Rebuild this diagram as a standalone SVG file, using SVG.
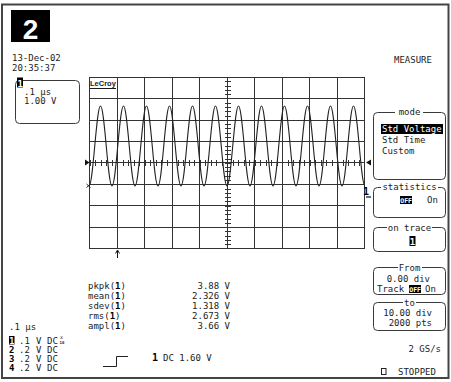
<svg xmlns="http://www.w3.org/2000/svg" width="451" height="382" viewBox="0 0 451 382">
<style>
text{font-family:"DejaVu Sans Mono","Liberation Mono",monospace;font-size:9px;fill:#222}
.b{font-weight:bold;fill:#000}
.w{fill:#fff}
.m{text-anchor:middle}
.e{text-anchor:end}
.box{fill:#fff;stroke:#3a3a3a;stroke-width:1}
.blk{fill:#000}
.sm{font-size:6.5px;font-weight:bold;fill:#fff}
#grid line{stroke:#333;stroke-width:1}
</style>
<rect width="451" height="382" fill="#fff"/>
<rect x="2" y="4.5" width="446.5" height="373.5" fill="none" stroke="#444" stroke-width="2"/>

<g id="trace-number">
<rect class="blk" x="11" y="10" width="39" height="32"/>
<text x="30.5" y="38.5" class="m" style="font-family:'Liberation Sans',Arial,sans-serif;font-size:28px;font-weight:bold;fill:#fff">2</text>
</g>

<g id="timestamp">
<text x="12" y="60.5">13-Dec-02</text>
<text x="12" y="71">20:35:37</text>
</g>

<g id="zoom-box">
<rect class="box" x="15.5" y="80.5" width="64" height="43" rx="4"/>
<rect class="blk" x="17" y="77.5" width="6" height="10"/>
<text x="17.4" y="86.5" class="sm" style="font-size:9px">1</text>
<text x="24" y="94.5">.1 μs</text>
<text x="24" y="103.5">1.00 V</text>
</g>

<text x="394" y="63">MEASURE</text>

<g id="grid" shape-rendering="crispEdges">
<line x1="89.5" y1="77" x2="89.5" y2="249"/>
<line x1="117.5" y1="77" x2="117.5" y2="249"/>
<line x1="144.5" y1="77" x2="144.5" y2="249"/>
<line x1="172.5" y1="77" x2="172.5" y2="249"/>
<line x1="199.5" y1="77" x2="199.5" y2="249"/>
<line x1="227.5" y1="77" x2="227.5" y2="249"/>
<line x1="254.5" y1="77" x2="254.5" y2="249"/>
<line x1="282.5" y1="77" x2="282.5" y2="249"/>
<line x1="309.5" y1="77" x2="309.5" y2="249"/>
<line x1="337.5" y1="77" x2="337.5" y2="249"/>
<line x1="364.5" y1="77" x2="364.5" y2="249"/>
<line x1="89" y1="77.5" x2="365" y2="77.5"/>
<line x1="89" y1="98.5" x2="365" y2="98.5"/>
<line x1="89" y1="120.5" x2="365" y2="120.5"/>
<line x1="89" y1="141.5" x2="365" y2="141.5"/>
<line x1="89" y1="162.5" x2="365" y2="162.5"/>
<line x1="89" y1="184.5" x2="365" y2="184.5"/>
<line x1="89" y1="205.5" x2="365" y2="205.5"/>
<line x1="89" y1="227.5" x2="365" y2="227.5"/>
<line x1="89" y1="248.5" x2="365" y2="248.5"/>
<line x1="227.5" y1="77" x2="227.5" y2="249" style="stroke-width:6;stroke-dasharray:1 3.29"/>
<line x1="89.5" y1="162.5" x2="365" y2="162.5" style="stroke-width:6;stroke-dasharray:1 4.5"/>
</g>

<g id="lecroy-label">
<text x="90" y="86" style="font-family:'Liberation Sans',Arial,sans-serif;font-size:7.5px;font-weight:bold">LeCroy</text>
<line x1="90" y1="88.5" x2="116" y2="88.5" stroke="#1a1a1a" stroke-width="1"/>
</g>

<g id="waveform">
<path fill="none" stroke="#222" stroke-width="1.1" d="M89,186c2.08,0 3.87,-19.5 5.75,-40c1.88,-20.5 3.67,-40 5.75,-40c2.08,0 3.87,19.5 5.75,40c1.88,20.5 3.67,40 5.75,40c2.08,0 3.87,-19.5 5.75,-40c1.88,-20.5 3.67,-40 5.75,-40c2.08,0 3.87,19.5 5.75,40c1.88,20.5 3.67,40 5.75,40c2.08,0 3.87,-19.5 5.75,-40c1.88,-20.5 3.67,-40 5.75,-40c2.08,0 3.87,19.5 5.75,40c1.88,20.5 3.67,40 5.75,40c2.08,0 3.87,-19.5 5.75,-40c1.88,-20.5 3.67,-40 5.75,-40c2.08,0 3.87,19.5 5.75,40c1.88,20.5 3.67,40 5.75,40c2.08,0 3.87,-19.5 5.75,-40c1.88,-20.5 3.67,-40 5.75,-40c2.08,0 3.87,19.5 5.75,40c1.88,20.5 3.67,40 5.75,40c2.08,0 3.87,-19.5 5.75,-40c1.88,-20.5 3.67,-40 5.75,-40c2.08,0 3.87,19.5 5.75,40c1.88,20.5 3.67,40 5.75,40c2.08,0 3.87,-19.5 5.75,-40c1.88,-20.5 3.67,-40 5.75,-40c2.08,0 3.87,19.5 5.75,40c1.88,20.5 3.67,40 5.75,40c2.08,0 3.87,-19.5 5.75,-40c1.88,-20.5 3.67,-40 5.75,-40c2.08,0 3.87,19.5 5.75,40c1.88,20.5 3.67,40 5.75,40c2.08,0 3.87,-19.5 5.75,-40c1.88,-20.5 3.67,-40 5.75,-40c2.08,0 3.87,19.5 5.75,40c1.88,20.5 3.67,40 5.75,40c2.08,0 3.87,-19.5 5.75,-40c1.88,-20.5 3.67,-40 5.75,-40c2.08,0 3.87,19.5 5.75,40c1.88,20.5 3.67,40 5.75,40c2.08,0 3.87,-19.5 5.75,-40c1.88,-20.5 3.67,-40 5.75,-40c2.08,0 3.87,19.5 5.75,40c1.88,20.5 3.67,40 5.75,40c2.08,0 3.87,-19.5 5.75,-40c1.88,-20.5 3.67,-40 5.75,-40c2.08,0 3.87,19.5 5.75,40c1.88,20.5 3.67,40 5.75,40"/>
<path d="M86.5,184l4,3.5M90.5,184l-4,3.5" stroke="#222" stroke-width="1"/>
</g>

<g id="markers">
<polygon points="85,159.5 89.5,162.5 85,165.5" fill="#111"/>
<polygon points="371,159.5 366,162.5 371,165.5" fill="#111"/>
<text x="363" y="195" class="b" style="font-size:10px">1</text>
<line x1="366" y1="197" x2="371" y2="197" stroke="#111" stroke-width="1.2"/>
<path d="M117.5,258V251" stroke="#111" stroke-width="1"/>
<path d="M115.5,253.5L117.5,250L119.5,253.5" fill="none" stroke="#111" stroke-width="1"/>
</g>

<g id="mode-menu">
<rect class="box" x="373.5" y="112.5" width="72" height="67" rx="4"/>
<rect x="395" y="108" width="28" height="8" fill="#fff"/>
<text x="409.5" y="115" class="m">mode</text>
<rect class="blk" x="381" y="124" width="62" height="10"/>
<text x="382" y="132" class="w">Std Voltage</text>
<text x="382" y="143">Std Time</text>
<text x="382" y="153.5">Custom</text>
</g>

<g id="statistics-menu">
<rect class="box" x="373.5" y="187.5" width="72" height="30" rx="4"/>
<rect x="381" y="183" width="57" height="8" fill="#fff"/>
<text x="409.5" y="190" class="m">statistics</text>
<rect class="blk" x="400" y="196" width="12" height="8"/>
<text x="400.3" y="202.6" class="sm">OFF</text>
<text x="427" y="203">On</text>
</g>

<g id="trace-menu">
<rect class="box" x="373.5" y="227.5" width="72" height="24" rx="4"/>
<rect x="387" y="223" width="45" height="8" fill="#fff"/>
<text x="409.5" y="230.5" class="m">on trace</text>
<rect class="blk" x="409.5" y="236" width="6" height="10"/>
<text x="409.8" y="245" class="sm" style="font-size:9px">1</text>
</g>

<g id="from-menu">
<rect class="box" x="373.5" y="267.5" width="72" height="27" rx="4"/>
<rect x="398" y="263" width="24" height="8" fill="#fff"/>
<text x="409.5" y="270.5" class="m">From</text>
<text x="430" y="282" class="e">0.00 div</text>
<text x="377" y="292">Track</text>
<rect class="blk" x="409" y="285" width="12" height="8"/>
<text x="409.3" y="291.6" class="sm">OFF</text>
<text x="425" y="292">On</text>
</g>

<g id="to-menu">
<rect class="box" x="373.5" y="302.5" width="72" height="28" rx="4"/>
<rect x="403" y="298" width="13" height="8" fill="#fff"/>
<text x="409.5" y="305.5" class="m">to</text>
<text x="432" y="316" class="e">10.00 div</text>
<text x="432" y="326" class="e">2000 pts</text>
</g>

<g id="measurements">
<text x="88" y="289">pkpk(<tspan class="b">1</tspan>)</text>
<text x="88" y="299">mean(<tspan class="b">1</tspan>)</text>
<text x="88" y="309">sdev(<tspan class="b">1</tspan>)</text>
<text x="88" y="319">rms(<tspan class="b">1</tspan>)</text>
<text x="88" y="329">ampl(<tspan class="b">1</tspan>)</text>
<text x="230" y="289" class="e">3.88 V</text>
<text x="230" y="299" class="e">2.326 V</text>
<text x="230" y="309" class="e">1.318 V</text>
<text x="230" y="319" class="e">2.673 V</text>
<text x="230" y="329" class="e">3.66 V</text>
</g>

<g id="channels">
<text x="9" y="330">.1 μs</text>
<rect class="blk" x="9" y="336" width="5.5" height="8.5"/>
<text x="9.2" y="343.6" class="sm" style="font-size:8.5px">1</text>
<text x="19" y="344">.1</text><text x="36" y="344">V</text><text x="47" y="344">DC</text>
<text x="60" y="339" style="font-size:5px">x</text>
<text x="59.5" y="343.5" style="font-size:4px;font-weight:bold">10</text>
<text x="9" y="352.5" class="b">2</text><text x="19" y="352.5">.2</text><text x="36" y="352.5">V</text><text x="47" y="352.5">DC</text>
<text x="9" y="361.5" class="b">3</text><text x="19" y="361.5">.2</text><text x="36" y="361.5">V</text><text x="47" y="361.5">DC</text>
<text x="9" y="370.5" class="b">4</text><text x="19" y="370.5">.2</text><text x="36" y="370.5">V</text><text x="47" y="370.5">DC</text>
</g>

<g id="trigger">
<path d="M103,366.5H116.5V356.5H128" fill="none" stroke="#222" stroke-width="1"/>
<text x="152" y="361" class="b" style="font-size:10px">1</text>
<text x="163" y="361">DC 1.60 V</text>
</g>

<g id="status">
<text x="441" y="352" class="e">2 GS/s</text>
<rect x="381.5" y="368.5" width="4.5" height="6" fill="none" stroke="#222" stroke-width="1"/>
<text x="398" y="375">STOPPED</text>
</g>
</svg>
